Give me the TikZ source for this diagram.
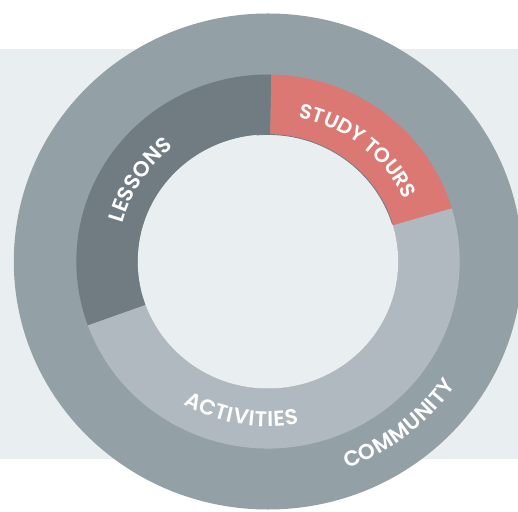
\documentclass[tikz,border=0pt]{standalone}
\usepackage{fontspec}
\newfontfamily\labfont{Poppins SemiBold}
\usetikzlibrary{decorations.text}
\definecolor{bandc}{HTML}{E9EEF1}
\definecolor{outerc}{HTML}{93A0A5}
\definecolor{lessonc}{HTML}{717C82}
\definecolor{tourc}{HTML}{DC7873}
\definecolor{actc}{HTML}{B1B9C0}
\definecolor{shadec}{HTML}{6F7A80}
\tikzset{
  curvlabel/.style={decorate, decoration={text along path, text align={fit to path}, text color=white, text={|\labfont\fontsize{21.5}{22}\selectfont|#1}}},
  curvlabelc/.style={decorate, decoration={text along path, text align=center, text color=white, text={|\labfont\fontsize{20.5}{21}\selectfont|#1}}}
}
\begin{document}
\begin{tikzpicture}[x=1pt,y=1pt]
\useasboundingbox (0,0) rectangle (518,511);
\fill[bandc] (0,52) rectangle (518,462);
\begin{scope}[shift={(268,249.5)}, xscale=1.025]
  \fill[outerc] (0,0) circle[radius=248];
  % Lessons
  \fill[lessonc] (89:187) arc[start angle=89, end angle=200, radius=187]
     -- (200:127) arc[start angle=200, end angle=89, radius=127] -- cycle;
  % Study tours
  \fill[tourc] (16.5:187) arc[start angle=16.5, end angle=89, radius=187]
     -- (89:127) arc[start angle=89, end angle=16.5, radius=127] -- cycle;
  % Activities
  \fill[actc] (200:187) arc[start angle=200, end angle=376.5, radius=187]
     -- (376.5:127) arc[start angle=376.5, end angle=200, radius=127] -- cycle;
  % hole
  \fill[bandc] (0,0) circle[radius=127];
  \draw[shadec, line width=0.8pt] (95:127) arc[start angle=95, end angle=17, radius=127];
  % labels
  \path[curvlabelc={STUDY TOURS}] (86.5:147) arc[start angle=86.5, end angle=16.5, radius=147];
  \path[curvlabel={LESSONS}] (165:147) arc[start angle=165, end angle=129, radius=147];
  \path[curvlabel={ACTIVITIES}] (240:165) arc[start angle=240, end angle=280.5, radius=165];
  \path[curvlabel={COMMUNITY}] (290.4:221) arc[start angle=290.4, end angle=325.9, radius=221];
\end{scope}
\end{tikzpicture}
\end{document}
